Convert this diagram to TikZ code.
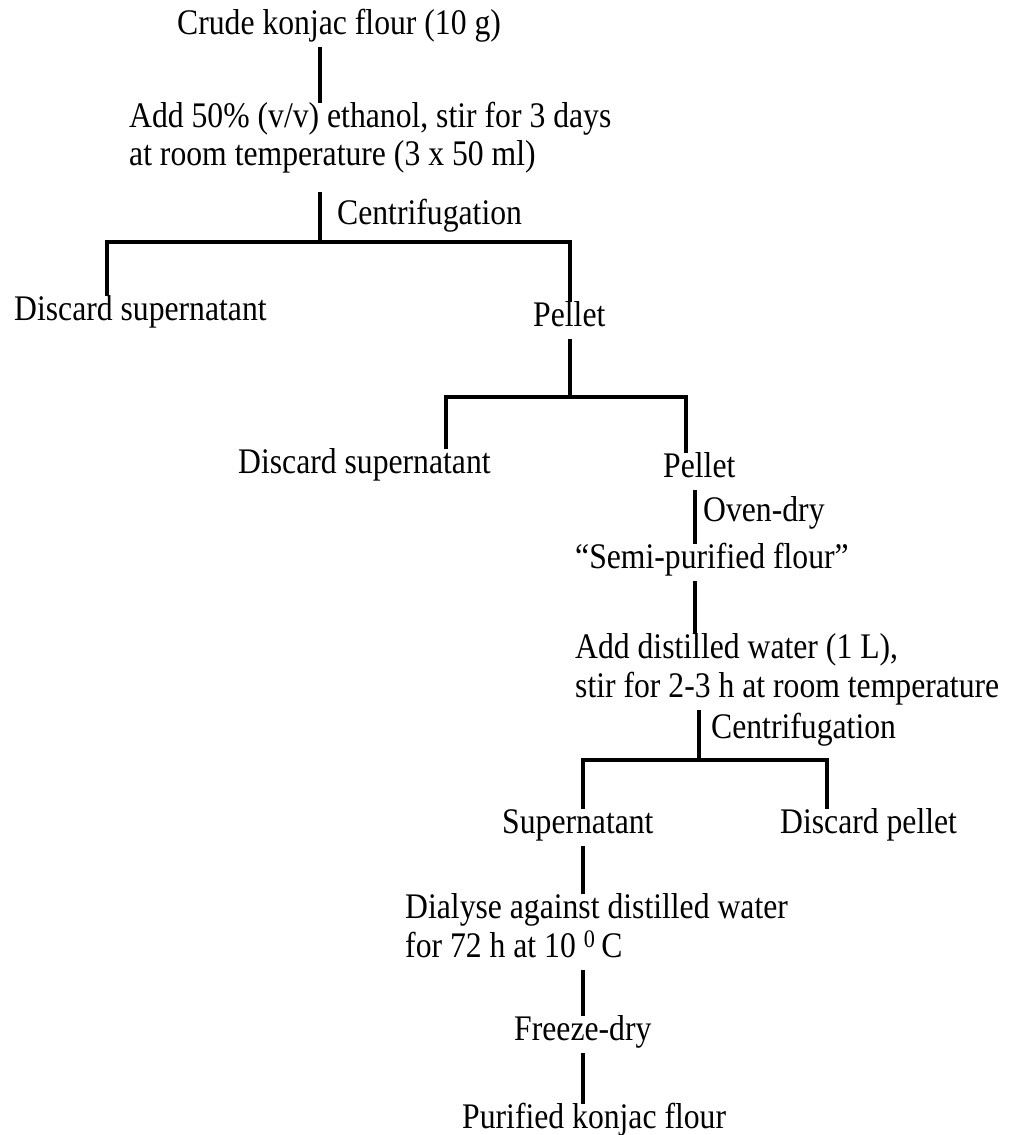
\documentclass[tikz,border=0pt]{standalone}
\usepackage{fontspec}
\setmainfont{Liberation Serif}[FakeStretch=0.88]
\usetikzlibrary{positioning}

\begin{document}
\begin{tikzpicture}[x=1pt,y=-1pt,
  txt/.style={anchor=base west,inner xsep=0pt,inner ysep=4pt,text height=20pt,text depth=9pt,font=\fontsize{36}{38}\selectfont},
  link/.style={line width=3.4pt}]
\useasboundingbox (0,0) rectangle (1018,1135);
\node[txt] (crude) at (177,34) {Crude konjac flour (10 g)};
\node[txt] (eth1) at (129,127) {Add 50\% (v/v) ethanol, stir for 3 days};
\node[txt] (eth2) at (129,165) {at room temperature (3 x 50 ml)};
\node[txt] (cent1) at (337,224) {Centrifugation};
\node[txt] (disc1) at (14,320) {Discard supernatant};
\node[txt] (pel1) at (533,326) {Pellet};
\node[txt] (disc2) at (238,473) {Discard supernatant};
\node[txt] (pel2) at (663,477) {Pellet};
\node[txt] (oven) at (703,521) {Oven-dry};
\node[txt] (semi) at (575,568) {“Semi-purified flour”};
\node[txt] (water1) at (575,658) {Add distilled water (1 L),};
\node[txt] (water2) at (575,697) {stir for 2-3 h at room temperature};
\node[txt] (cent2) at (711,738) {Centrifugation};
\node[txt] (super) at (502,833) {Supernatant};
\node[txt] (discp) at (780,833) {Discard pellet};
\node[txt] (dial1) at (405,918) {Dialyse against distilled water};
\node[txt] (dial2) at (405,957) {for 72 h at 10 \textsuperscript{0}\,C};
\node[txt] (freeze) at (514,1040) {Freeze-dry};
\node[txt] (pure) at (462,1128) {Purified konjac flour};
% split points
\coordinate (s1) at (320,242); \coordinate (s1l) at (107,242); \coordinate (s1r) at (570,242);
\coordinate (s2) at (570,397); \coordinate (s2l) at (446,397); \coordinate (s2r) at (686,397);
\coordinate (s3) at (699,760); \coordinate (s3l) at (583,760); \coordinate (s3r) at (827,760);
\coordinate (dry) at ([xshift=-8pt]oven.west);
\draw[link] (crude.south -| s1) -- (eth1.north -| s1);
\draw[link] ([yshift=-14pt]eth2.south -| s1) -- (s1);
\draw[link] (disc1.north -| s1l) -- (s1l) -- (s1r) -- (pel1.north -| s1r);
\draw[link] (pel1.south -| s2) -- (s2);
\draw[link] (disc2.north -| s2l) -- (s2l) -- (s2r) -- (pel2.north -| s2r);
\draw[link] (pel2.south -| dry) -- (semi.north -| dry);
\draw[link] (semi.south -| dry) -- (water1.north -| dry);
\draw[link] (water2.south -| s3) -- (s3);
\draw[link] (super.north -| s3l) -- (s3l) -- (s3r) -- (discp.north -| s3r);
\draw[link] (super.south -| s3l) -- (dial1.north -| s3l);
\draw[link] (dial2.south -| s3l) -- (freeze.north -| s3l);
\draw[link] (freeze.south -| s3l) -- (pure.north -| s3l);
\end{tikzpicture}
\end{document}
